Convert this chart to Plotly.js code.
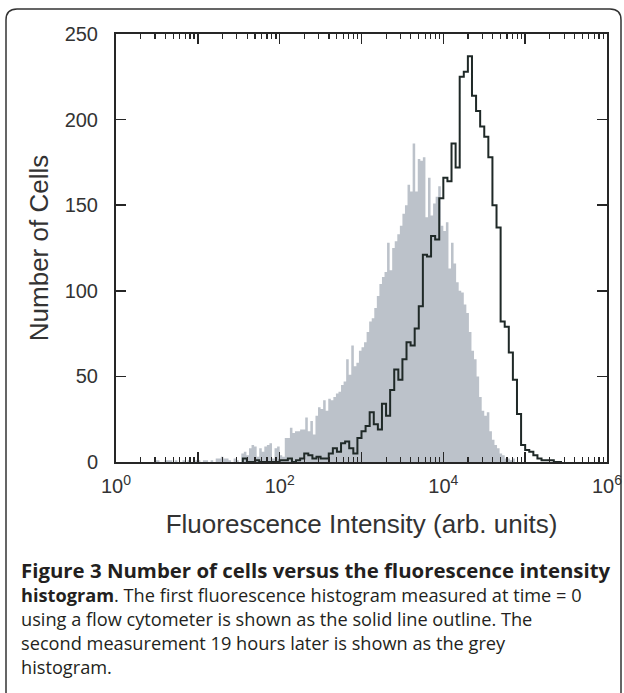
<!DOCTYPE html>
<html><head><meta charset="utf-8">
<script src="https://cdn.plot.ly/plotly-3.0.1.min.js"></script>
<style>html,body{margin:0;padding:0;background:#fff}</style>
</head><body>
<div id="chart" style="width:624px;height:693px"></div>
<script>
// ---- data ----
// grey histogram (19 h later): log-spaced bins, 1/32 decade wide, starting at 10^0.375
const greyStartLog = 0.375;
const greyBinLog = 1 / 32;
const greyCounts = [
  0,0,0,1,1,0,0,1,1,1,
  0,1,0,0,1,0,1,0,0,1,
  1,0,1,1,0,1,0,2,2,3,
  2,2,1,0,2,1,0,5,6,4,
  8,10,9,3,8,6,9,10,11,2,
  8,9,4,3,14,14,20,17,18,18,
  19,19,26,18,24,16,27,32,31,36,
  30,37,36,38,40,41,45,47,60,51,
  68,56,58,65,67,70,76,82,84,90,
  97,104,108,111,128,112,125,129,133,138,
  145,150,162,158,186,158,177,176,178,143,
  166,144,151,155,161,138,135,140,113,128,
  116,105,100,99,92,87,76,65,60,50,
  38,30,27,29,18,13,10,8,5,4,
  2,2,1,2
];
// black outline histogram (time = 0): bins 1/20 decade wide, starting at 10^1.55
const blackStartLog = 1.55;
const blackBinLog = 1 / 20;
const blackCounts = [
  2,0,0,1,0,0,0,0,0,1,
  1,2,0,1,2,5,4,2,3,2,
  2,5,8,6,11,12,8,5,14,18,
  21,29,22,19,34,27,42,54,48,60,
  70,68,78,91,121,120,132,130,154,166,
  164,186,172,225,228,237,214,205,196,190,
  178,150,137,82,79,64,48,28,10,7,
  6,4,2,1,1,1,0,0
];
const xDecadeTicks = [1, 10, 100, 1e3, 1e4, 1e5, 1e6];
const xLabelVals = [1, 100, 1e4, 1e6];
const xLabelText = ['10<sup>0</sup>', '10<sup>2</sup>', '10<sup>4</sup>', '10<sup>6</sup>'];
const yTickVals = [0, 50, 100, 150, 200, 250];
const xTitle = 'Fluorescence Intensity (arb. units)';
const yTitle = 'Number of Cells';
const captionLines = [
  '<b>Figure 3 Number of cells versus the fluorescence intensity</b>',
  '<b>histogram</b>. The first fluorescence histogram measured at time = 0',
  'using a flow cytometer is shown as the solid line outline. The',
  'second measurement 19 hours later is shown as the grey',
  'histogram.'
];

// ---- geometry ----
const W = 624, H = 693;
const M = {l: 116, r: 17, t: 34, b: 231};
const PW = W - M.l - M.r, PH = H - M.t - M.b;
const px2x = p => (p - M.l) / PW;
const px2y = p => (H - M.b - p) / PH;

function stepTrace(start, w, counts) {
  const x = [], y = [];
  x.push(Math.pow(10, start)); y.push(0);
  counts.forEach((c, i) => { x.push(Math.pow(10, start + i * w)); y.push(c); });
  x.push(Math.pow(10, start + counts.length * w)); y.push(0);
  return {x, y};
}
const g = stepTrace(greyStartLog, greyBinLog, greyCounts);
const b = stepTrace(blackStartLog, blackBinLog, blackCounts);

const minorVals = [];
for (let d = 0; d < 6; d++) for (let k = 2; k <= 9; k++) minorVals.push(k * Math.pow(10, d));

const axisColor = '#262626';
const tickFont = {family: 'Liberation Sans, Arial, sans-serif', size: 20, color: '#333'};
const titleFont = {family: 'Liberation Sans, Arial, sans-serif', size: 26, color: '#333'};

const traces = [
  {x: g.x, y: g.y, type: 'scatter', mode: 'lines', line: {shape: 'hv', width: 0, color: '#bcc2ca'},
   fill: 'tozeroy', fillcolor: '#bcc2ca', hoverinfo: 'skip', name: '19 h'},
  {x: b.x, y: b.y, type: 'scatter', mode: 'lines', line: {shape: 'hv', width: 2, color: '#1f2927'},
   hoverinfo: 'skip', name: 't = 0'},
  {x: [1], y: [0], xaxis: 'x2', type: 'scatter', mode: 'markers', marker: {opacity: 0}, hoverinfo: 'skip', showlegend: false}
];

// rounded outer frame
const fx0 = 6, fy0 = 9, fx1 = 621, fy1 = 720, r = 11;
const P = (x, y) => px2x(x) + ',' + px2y(y);
const framePath = 'M' + P(fx0, fy1) + ' L' + P(fx0, fy0 + r) + ' Q' + P(fx0, fy0) + ' ' + P(fx0 + r, fy0) +
  ' L' + P(fx1 - r, fy0) + ' Q' + P(fx1, fy0) + ' ' + P(fx1, fy0 + r) + ' L' + P(fx1, fy1);

const captionY = [570, 595, 619, 643, 667];
const annotations = captionLines.map((t, i) => ({
  text: t, xref: 'paper', yref: 'paper', x: px2x(19), y: px2y(captionY[i]),
  xanchor: 'left', yanchor: 'middle', showarrow: false, align: 'left',
  font: {family: 'Open Sans, Noto Sans, sans-serif', size: i === 0 ? 20.4 : 18.2, color: '#231f20'}
}));

const layout = {
  width: W, height: H, margin: M, paper_bgcolor: '#fff', plot_bgcolor: '#fff',
  showlegend: false,
  xaxis: {
    type: 'log', range: [0, 6], tickmode: 'array', tickvals: xDecadeTicks, showticklabels: false,
    ticks: 'inside', ticklen: 10, tickwidth: 1.5, tickcolor: axisColor,
    showline: true, linewidth: 2, linecolor: axisColor, mirror: 'ticks',
    showgrid: false, zeroline: false,
    minor: {tickmode: 'array', tickvals: minorVals, ticks: 'inside', ticklen: 5, tickwidth: 1.2, tickcolor: axisColor, showgrid: false},
    title: {text: xTitle, font: titleFont, standoff: 52}
  },
  xaxis2: {
    type: 'log', range: [0, 6], overlaying: 'x', anchor: 'y', side: 'bottom',
    tickmode: 'array', tickvals: xLabelVals, ticktext: xLabelText, ticks: '',
    showline: false, showgrid: false, zeroline: false, tickfont: tickFont, ticklabelstandoff: 10
  },
  yaxis: {
    range: [0, 250], tickmode: 'array', tickvals: yTickVals,
    ticks: 'inside', ticklen: 10, tickwidth: 1.5, tickcolor: axisColor,
    showline: true, linewidth: 2, linecolor: axisColor, mirror: 'ticks',
    showgrid: false, zeroline: false, tickfont: tickFont, ticklabelstandoff: 12,
    title: {text: yTitle, font: titleFont, standoff: 9}
  },
  shapes: [{type: 'path', xref: 'paper', yref: 'paper', path: framePath, line: {color: '#333', width: 1.5}}],
  annotations: annotations
};

Plotly.newPlot('chart', traces, layout, {displayModeBar: false, staticPlot: true});
</script>
</body></html>
